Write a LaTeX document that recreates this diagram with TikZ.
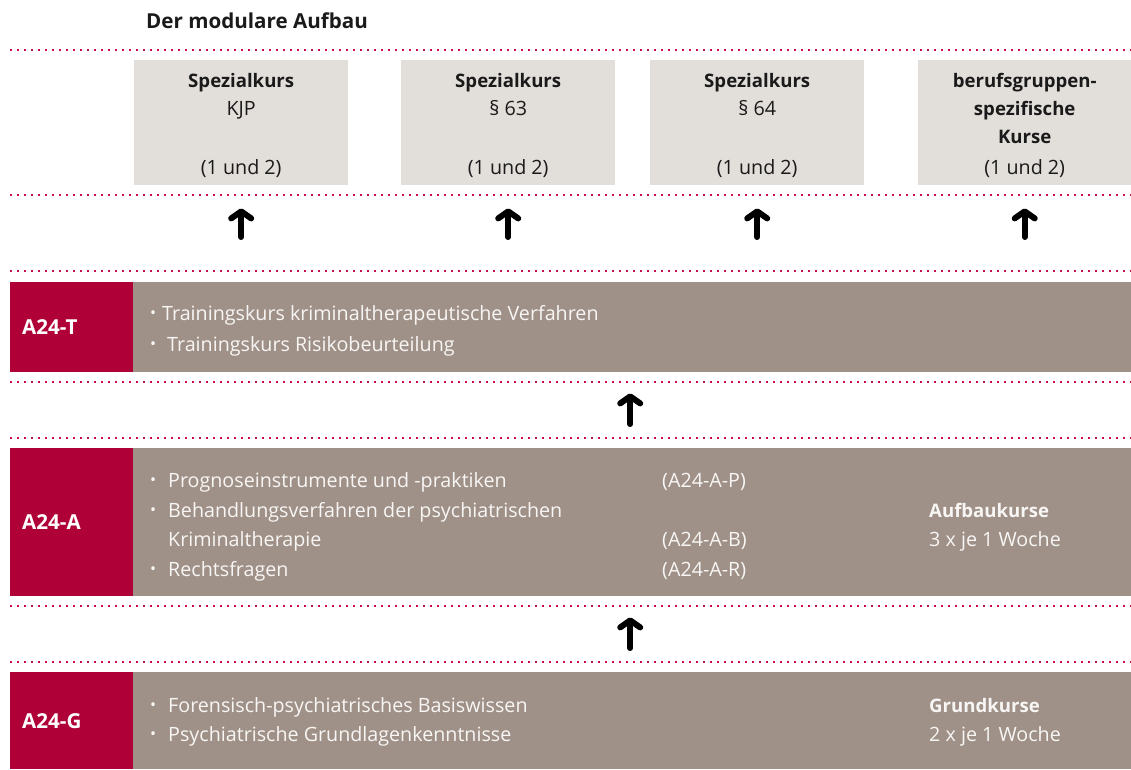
\documentclass[tikz,border=0pt]{standalone}
\usepackage{fontspec}
\setmainfont{Open Sans}
\usetikzlibrary{arrows.meta,positioning}

\definecolor{dotred}{RGB}{200,16,70}
\definecolor{modred}{RGB}{176,0,56}
\definecolor{bargray}{RGB}{159,145,136}
\definecolor{boxgray}{RGB}{226,222,217}
\definecolor{bartxt}{RGB}{248,246,244}
\definecolor{darktxt}{RGB}{26,26,26}

\newcommand\bul{\raisebox{1.5pt}{\fontsize{16}{16}\selectfont •}}
\newcommand\bfs{\fontsize{20.6}{29}\selectfont\bfseries}
\newcommand\bfb{\fontsize{18.6}{29}\selectfont\bfseries}

\begin{document}
\begin{tikzpicture}[x=1pt,y=-1pt,
    every node/.style={inner sep=0pt, font=\fontsize{19.7}{29}\selectfont},
    dotline/.style={dotred, line width=2pt, dash pattern=on 2pt off 5pt},
    spez/.style={fill=boxgray, minimum width=214pt, minimum height=125pt, anchor=north west},
    spztxt/.style={anchor=base, text=darktxt},
    modlabel/.style={fill=modred, text=white, font=\bfs,
        anchor=north west, text width=99pt, inner xsep=12pt, align=left},
    bar/.style={fill=bargray, minimum width=998pt, anchor=north west},
    bartext/.style={anchor=base west, text=bartxt},
    uparrow/.style={line width=6pt, line cap=round, -{Straight Barb[length=7pt,width=20pt,round]}}
]
\useasboundingbox (0,0) rectangle (1131,769);

\node[anchor=base west, text=darktxt, font=\bfs] (title) at (146,28) {Der modulare Aufbau};

% dotted separators
\draw[dotline] (10,50) -- (1131,50);
\draw[dotline] (10,195) -- (1131,195);
\draw[dotline] (10,271) -- (1131,271);
\draw[dotline] (10,382) -- (1131,382);
\draw[dotline] (10,438) -- (1131,438);
\draw[dotline] (10,606) -- (1131,606);
\draw[dotline] (10,662) -- (1131,662);

% special courses
\node[spez] (kjp) at (134,60) {};
\node[spez] (p63) at (401,60) {};
\node[spez] (p64) at (650,60) {};
\node[spez, minimum width=213pt] (beruf) at (918,60) {};

\node[spztxt, font=\bfb] (kjp1) at (kjp.north |- 0,87) {Spezialkurs};
\node[spztxt] (kjp2) at (kjp.north |- 0,115) {KJP};
\node[spztxt] (kjp3) at (kjp.north |- 0,174) {(1 und 2)};
\node[spztxt, font=\bfb] (p631) at (p63.north |- 0,87) {Spezialkurs};
\node[spztxt] (p632) at (p63.north |- 0,115) {§ 63};
\node[spztxt] (p633) at (p63.north |- 0,174) {(1 und 2)};
\node[spztxt, font=\bfb] (p641) at (p64.north |- 0,87) {Spezialkurs};
\node[spztxt] (p642) at (p64.north |- 0,115) {§ 64};
\node[spztxt] (p643) at (p64.north |- 0,174) {(1 und 2)};
\node[spztxt, font=\bfb] (beruf1) at (beruf.north |- 0,87) {berufsgruppen-};
\node[spztxt, font=\bfb] (beruf2) at (beruf.north |- 0,115) {spezifische};
\node[spztxt, font=\bfb] (beruf3) at (beruf.north |- 0,143) {Kurse};
\node[spztxt] (beruf4) at (beruf.north |- 0,174) {(1 und 2)};

% A24-T
\node[modlabel, minimum height=90pt] (tlab) at (10,282) {A24-T};
\node[bar, minimum height=90pt] (tbar) at (133,282) {};
\node[bartext] (t1) at (150,320) {\makebox[12pt][l]{\bul}Trainingskurs kriminaltherapeutische Verfahren};
\node[bartext] (t2) at (150,351) {\makebox[17pt][l]{\bul}Trainingskurs Risikobeurteilung};

% A24-A
\node[modlabel, minimum height=148pt] (alab) at (10,448) {A24-A};
\node[bar, minimum height=148pt] (abar) at (133,448) {};
\node[bartext] (a1) at (150,487) {\makebox[18pt][l]{\bul}Prognoseinstrumente und -praktiken};
\node[bartext] (a2) at (150,517) {\makebox[18pt][l]{\bul}Behandlungsverfahren der psychiatrischen};
\node[bartext] (a3) at (168,546) {Kriminaltherapie};
\node[bartext] (a4) at (150,576) {\makebox[18pt][l]{\bul}Rechtsfragen};
\node[bartext] (ap) at (662,487) {(A24-A-P)};
\node[bartext] (ab) at (662,546) {(A24-A-B)};
\node[bartext] (ar) at (662,576) {(A24-A-R)};
\node[bartext, font=\bfb] (auf) at (929,517) {Aufbaukurse};
\node[bartext] (aufw) at (929,546) {3 x je 1 Woche};

% A24-G
\node[modlabel, minimum height=97pt] (glab) at (10,672) {A24-G};
\node[bar, minimum height=97pt] (gbar) at (133,672) {};
\node[bartext] (g1) at (150,712) {\makebox[18pt][l]{\bul}Forensisch-psychiatrisches Basiswissen};
\node[bartext] (g2) at (150,741) {\makebox[18pt][l]{\bul}Psychiatrische Grundlagenkenntnisse};
\node[bartext, font=\bfb] (grund) at (929,712) {Grundkurse};
\node[bartext] (grundw) at (929,741) {2 x je 1 Woche};

% arrows
\draw[uparrow] ([yshift=45pt]tbar.north -| kjp.south) -- ([yshift=-23pt]kjp.south);
\draw[uparrow] ([yshift=45pt]tbar.north -| p63.south) -- ([yshift=-23pt]p63.south);
\draw[uparrow] ([yshift=45pt]tbar.north -| p64.south) -- ([yshift=-23pt]p64.south);
\draw[uparrow] ([yshift=45pt]tbar.north -| beruf.south) -- ([yshift=-23pt]beruf.south);
\draw[uparrow] ([xshift=-2pt,yshift=24pt]abar.north) -- ([xshift=-2pt,yshift=-21pt]tbar.south);
\draw[uparrow] ([xshift=-2pt,yshift=24pt]gbar.north) -- ([xshift=-2pt,yshift=-21pt]abar.south);

\end{tikzpicture}
\end{document}
